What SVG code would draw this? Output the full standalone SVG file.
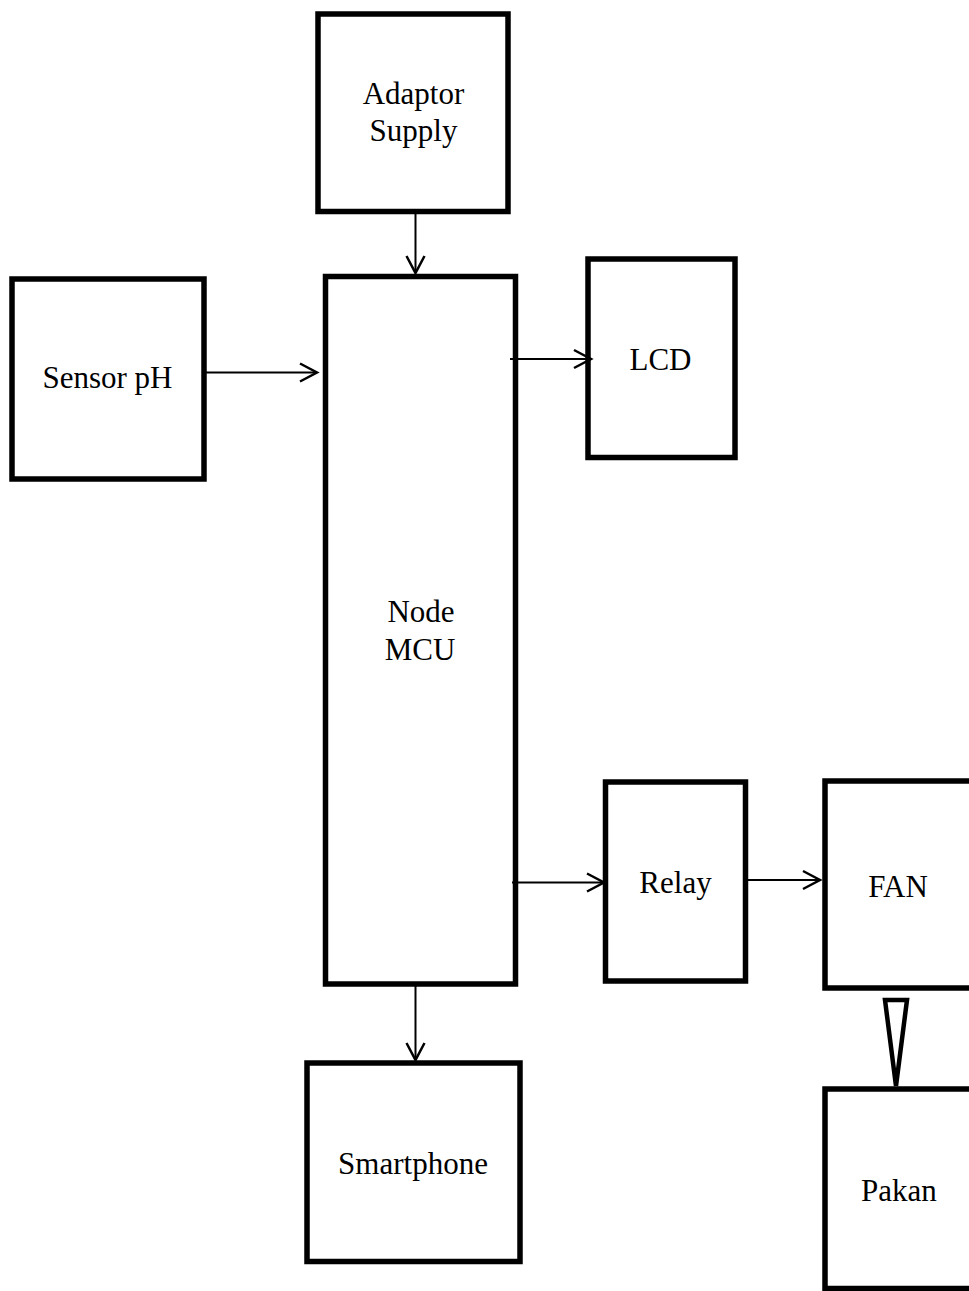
<svg xmlns="http://www.w3.org/2000/svg" width="969" height="1291" viewBox="0 0 969 1291">
<style>
.box{fill:#fff;stroke:#000;stroke-width:5.5}
.lbl{font-family:"Liberation Serif","Times New Roman",serif;font-size:31px;fill:#000;text-anchor:middle}
.wire{stroke:#000;stroke-width:2;fill:none}
</style>
<defs>
<marker id="arr" markerUnits="userSpaceOnUse" markerWidth="30" markerHeight="30" refX="20" refY="12" orient="auto" viewBox="0 0 30 24">
<path d="M3,3 L20,12 L3,21" fill="none" stroke="#000" stroke-width="2.5"/>
</marker>
</defs>
<rect width="969" height="1291" fill="#fff"/>
<g id="adaptor">
<rect class="box" x="318" y="14" width="190" height="197.5"/>
<text class="lbl" x="413.5" y="104">Adaptor</text>
<text class="lbl" x="413.5" y="141">Supply</text>
</g>
<g id="nodemcu">
<rect class="box" x="325.5" y="276.5" width="190" height="707.5"/>
<text class="lbl" x="421" y="622">Node</text>
<text class="lbl" x="420" y="660">MCU</text>
</g>
<g id="sensor">
<rect class="box" x="12" y="279" width="192" height="200"/>
<text class="lbl" x="107.5" y="388">Sensor pH</text>
</g>
<g id="lcd">
<rect class="box" x="588" y="259" width="147" height="198.5"/>
<text class="lbl" x="660.5" y="370">LCD</text>
</g>
<g id="relay">
<rect class="box" x="605.5" y="782" width="140" height="199"/>
<text class="lbl" x="675.5" y="893">Relay</text>
</g>
<g id="smartphone">
<rect class="box" x="307" y="1063" width="213" height="198.5"/>
<text class="lbl" x="413" y="1174">Smartphone</text>
</g>
<g id="fan">
<rect class="box" x="825" y="781" width="160" height="207"/>
<text class="lbl" x="898" y="897">FAN</text>
</g>
<g id="pakan">
<rect class="box" x="825" y="1089" width="160" height="199.5"/>
<text class="lbl" x="899" y="1201">Pakan</text>
</g>
<g id="connectors">
<line class="wire" x1="415.5" y1="214" x2="415.5" y2="273" marker-end="url(#arr)"/>
<line class="wire" x1="206" y1="372.5" x2="317" y2="372.5" marker-end="url(#arr)"/>
<line class="wire" x1="510" y1="359" x2="591" y2="359" marker-end="url(#arr)"/>
<line class="wire" x1="512" y1="882.5" x2="604" y2="882.5" marker-end="url(#arr)"/>
<line class="wire" x1="748" y1="880" x2="820" y2="880" marker-end="url(#arr)"/>
<line class="wire" x1="415.5" y1="986" x2="415.5" y2="1060" marker-end="url(#arr)"/>
<polygon points="885,1000 907,1000 896,1086" fill="#fff" stroke="#000" stroke-width="4.5" stroke-linejoin="miter"/>
</g>
</svg>
